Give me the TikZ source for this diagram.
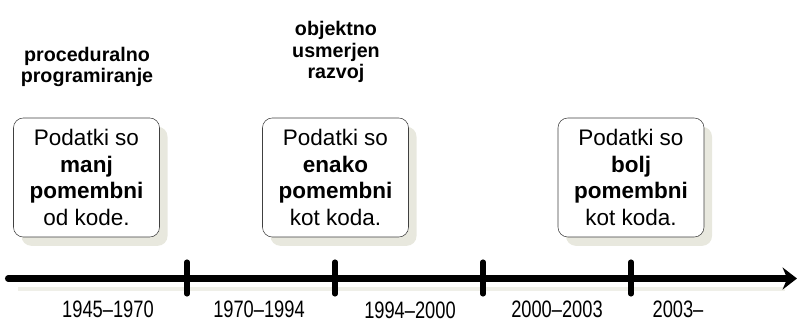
\documentclass[tikz,border=0pt]{standalone}
\usepackage{fontspec}
\setmainfont{Liberation Sans}
\usetikzlibrary{arrows.meta,shadows}

\definecolor{shade}{RGB}{232,232,222}

\tikzset{
  era/.style={draw=black!75, fill=white, rounded corners=7pt, align=center,
    minimum width=3.65cm, minimum height=2.975cm, inner sep=0pt,
    font=\fontsize{16}{19}\selectfont,
    general shadow={fill=shade, shadow xshift=0.2cm, shadow yshift=-0.22cm}},
  paradigm/.style={align=center, font=\bfseries\fontsize{14}{15.2}\selectfont},
  period/.style={anchor=base, font=\fontsize{13}{15}\selectfont},
  yearmark/.style={line width=3.6pt, line cap=round},
}
\newcommand{\tall}[1]{\scalebox{1}[1.3]{#1}}

\begin{document}
\begin{tikzpicture}[x=0.025cm,y=-0.025cm]
\useasboundingbox (0,0) rectangle (798,322);

% Paradigms
\node[paradigm] (proc) at (87,67) {proceduralno\\programiranje};
\node[paradigm] (oo) at (336,52) {objektno\\usmerjen\\razvoj};

% How much the data counts
\node[era] (less) at (86.5,177.5) {Podatki so\\\textbf{manj}\\\textbf{pomembni}\\od kode.};
\node[era] (equal) at (335.5,177.5) {Podatki so\\\textbf{enako}\\\textbf{pomembni}\\kot koda.};
\node[era] (more) at (631,177.5) {Podatki so\\\textbf{bolj}\\\textbf{pomembni}\\kot koda.};

% Time axis
\coordinate (start) at (8,278.5);
\coordinate (end) at (797,278.5);
\draw[shade!70, line width=3pt] (18,289) -- (785,289);
\draw[line width=4.3pt, line cap=round, -{Stealth[length=0.36cm,width=0.55cm]}] (start) -- (end);

% Year marks
\foreach \x in {187,335,483,631} {
  \draw[yearmark] (\x,262) -- (\x,294);
}

% Periods
\node[period] (p1) at (108,317) {\tall{1945--1970}};
\node[period] (p2) at (259,317) {\tall{1970--1994}};
\node[period] (p3) at (410,318) {\tall{1994--2000}};
\node[period] (p4) at (557,317) {\tall{2000--2003}};
\node[period] (p5) at (678,317) {\tall{2003--}};
\end{tikzpicture}
\end{document}
